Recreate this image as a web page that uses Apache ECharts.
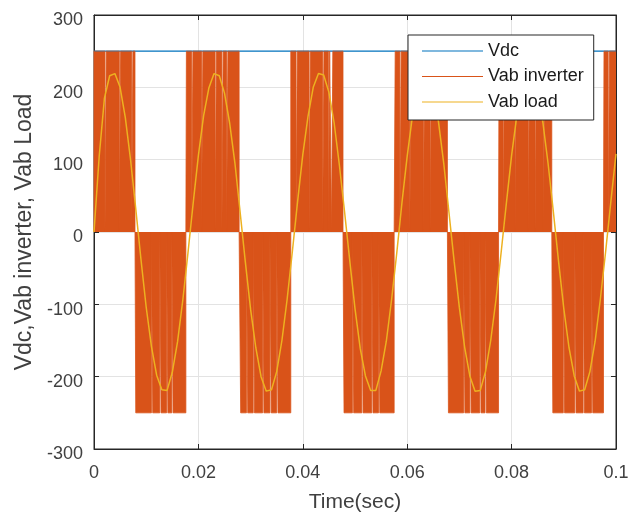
<!DOCTYPE html>
<html>
<head>
<meta charset="utf-8">
<script src="https://cdn.jsdelivr.net/npm/echarts@6/dist/echarts.min.js"></script>
<style>
  html, body { margin: 0; padding: 0; background: #fff; }
  #container { width: 635px; height: 514px; }
</style>
</head>
<body>
<div id="container"></div>
<script>
var dom = document.getElementById("container");
var myChart = echarts.init(dom);

// time in ms, values in V
var vdcTime = [0, 100];
var vdcValues = [250, 250];

// inverter output blocks (ms)
var posStart = [0, 17.7, 37.7, 57.7, 77.6, 97.7];
var posEnd = [7.85, 27.8, 47.7, 67.7, 87.7, 100];
var negStart = [8.0, 28.1, 47.9, 67.9, 87.9];
var negEnd = [17.6, 37.7, 57.5, 77.5, 97.6];
var dcLevel = 250;
// short zero-dips visible inside the blocks (ms)
var notches = [2.1, 4.85, 7.2, 11.0, 12.6, 13.9, 14.9, 18.7, 20.6, 23.2, 24.5, 25.4,
  29.2, 30.5, 32.3, 33.7, 35.0, 38.7, 41.2, 43.8, 44.9, 45.5, 49.5, 51.3, 53.2, 54.5,
  58.6, 60.5, 63.1, 64.4, 70.8, 72.0, 73.9, 74.9, 78.4, 80.7, 83.2, 84.5, 86.1,
  89.9, 92.1, 93.7, 95.3, 98.5];
var notchWidth = 0.25;

// load voltage, one value per ms from 0 to 100 ms
var loadValues = [
  0, 105, 185, 216, 219, 200, 158, 100, 32, -38,
  -104, -158, -198, -218, -219, -194, -152, -95, -29, 40,
  106, 161, 199, 219, 216, 192, 150, 95, 27, -42,
  -107, -160, -200, -220, -218, -193, -150, -93, -27, 42,
  107, 160, 200, 219, 217, 193, 151, 93, 28, -40,
  -106, -161, -199, -219, -219, -192, -151, -94, -29, 41,
  105, 160, 198, 218, 216, 194, 152, 95, 27, -41,
  -105, -159, -199, -220, -219, -193, -150, -94, -28, 40,
  106, 161, 199, 218, 217, 193, 151, 94, 28, -41,
  -106, -160, -199, -220, -218, -193, -151, -93, -28, 41,
  108
];

var option;
initChart();

function buildInverter() {
  var blocks = [];
  posStart.forEach((s, i) => blocks.push([s, posEnd[i], dcLevel]));
  negStart.forEach((s, i) => blocks.push([s, negEnd[i], -dcLevel]));
  blocks.sort((a, b) => a[0] - b[0]);
  var pts = [];
  blocks.forEach((b) => {
    pts.push([b[0], 0], [b[0], b[2]]);
    notches.forEach((n) => {
      if (n > b[0] && n + notchWidth < b[1]) {
        pts.push([n, b[2]], [n, 0], [n + notchWidth, 0], [n + notchWidth, b[2]]);
      }
    });
    pts.push([b[1], b[2]]);
    if (b[1] < 100) pts.push([b[1], 0]);
  });
  return pts;
}

function initChart() {
  var font = "Liberation Sans";
  var axisColor = "#262626";
  var labelColor = "#404040";
  var tick = { inside: true, length: 5, lineStyle: { color: axisColor } };

  option = {
    animation: false,
    backgroundColor: "#fff",
    textStyle: { fontFamily: font },
    grid: {
      left: 94,
      right: 19,
      top: 15,
      bottom: 65,
      outerBoundsMode: "none",
      containLabel: false,
      show: true,
      borderColor: axisColor,
      borderWidth: 1,
    },
    legend: {
      orient: "vertical",
      left: 408,
      top: 35,
      padding: [6, 10, 8, 14],
      itemWidth: 61,
      itemHeight: 20,
      itemGap: 5.5,
      icon: "path://M0,0H61V1.2H0Z",
      backgroundColor: "#fff",
      borderColor: axisColor,
      borderWidth: 1,
      borderRadius: 0,
      textStyle: { fontSize: 18, color: "#1a1a1a", lineHeight: 20, fontFamily: font },
      data: ["Vdc", "Vab inverter", "Vab load"],
    },
    xAxis: [
      {
        type: "value",
        min: 0,
        max: 100,
        interval: 20,
        name: "Time(sec)",
        nameLocation: "middle",
        nameGap: 43,
        nameTextStyle: { fontSize: 21, color: labelColor },
        axisLine: { onZero: false, lineStyle: { color: axisColor } },
        axisTick: tick,
        axisLabel: {
          fontSize: 18,
          color: labelColor,
          margin: 15,
          formatter: (v) => String(v / 1000),
        },
        splitLine: { show: true, lineStyle: { color: "#e3e3e3" } },
      },
      {
        type: "value",
        position: "top",
        min: 0,
        max: 100,
        interval: 20,
        axisLine: { onZero: false, lineStyle: { color: axisColor } },
        axisTick: tick,
        axisLabel: { show: false },
        splitLine: { show: false },
      },
    ],
    yAxis: [
      {
        type: "value",
        min: -300,
        max: 300,
        interval: 100,
        name: "Vdc,Vab inverter, Vab Load",
        nameLocation: "middle",
        nameGap: 46,
        nameTextStyle: { fontSize: 23, color: labelColor },
        axisLine: { show: true, onZero: false, lineStyle: { color: axisColor } },
        axisTick: Object.assign({ show: true }, tick),
        axisLabel: {
          color: labelColor,
          margin: 11,
          formatter: (v) => "{a|" + v + "}",
          rich: { a: { fontSize: 18, color: labelColor, padding: [11, 0, 0, 0] } },
        },
        splitLine: { show: true, lineStyle: { color: "#e3e3e3" } },
      },
      {
        type: "value",
        position: "right",
        min: -300,
        max: 300,
        interval: 100,
        axisLine: { show: true, onZero: false, lineStyle: { color: axisColor } },
        axisTick: Object.assign({ show: true }, tick),
        axisLabel: { show: false },
        splitLine: { show: false },
      },
    ],
    series: [
      {
        name: "Vdc",
        type: "line",
        symbol: "none",
        color: "#0072BD",
        lineStyle: { width: 1.2, color: "#0072BD" },
        data: vdcTime.map((t, i) => [t, vdcValues[i]]),
      },
      {
        name: "Vab inverter",
        type: "line",
        symbol: "none",
        color: "#D95319",
        lineStyle: { width: 0.8, color: "#D95319" },
        areaStyle: { color: "#D95319", opacity: 1, origin: 0 },
        data: buildInverter(),
      },
      {
        name: "Vab load",
        type: "line",
        symbol: "none",
        color: "#EDB120",
        lineStyle: { width: 1.5, color: "#EDB120" },
        data: loadValues.map((v, i) => [i, v]),
      },
    ],
  };

  if (option && typeof option === "object") {
    myChart.setOption(option);
  }
}
</script>
</body>
</html>
